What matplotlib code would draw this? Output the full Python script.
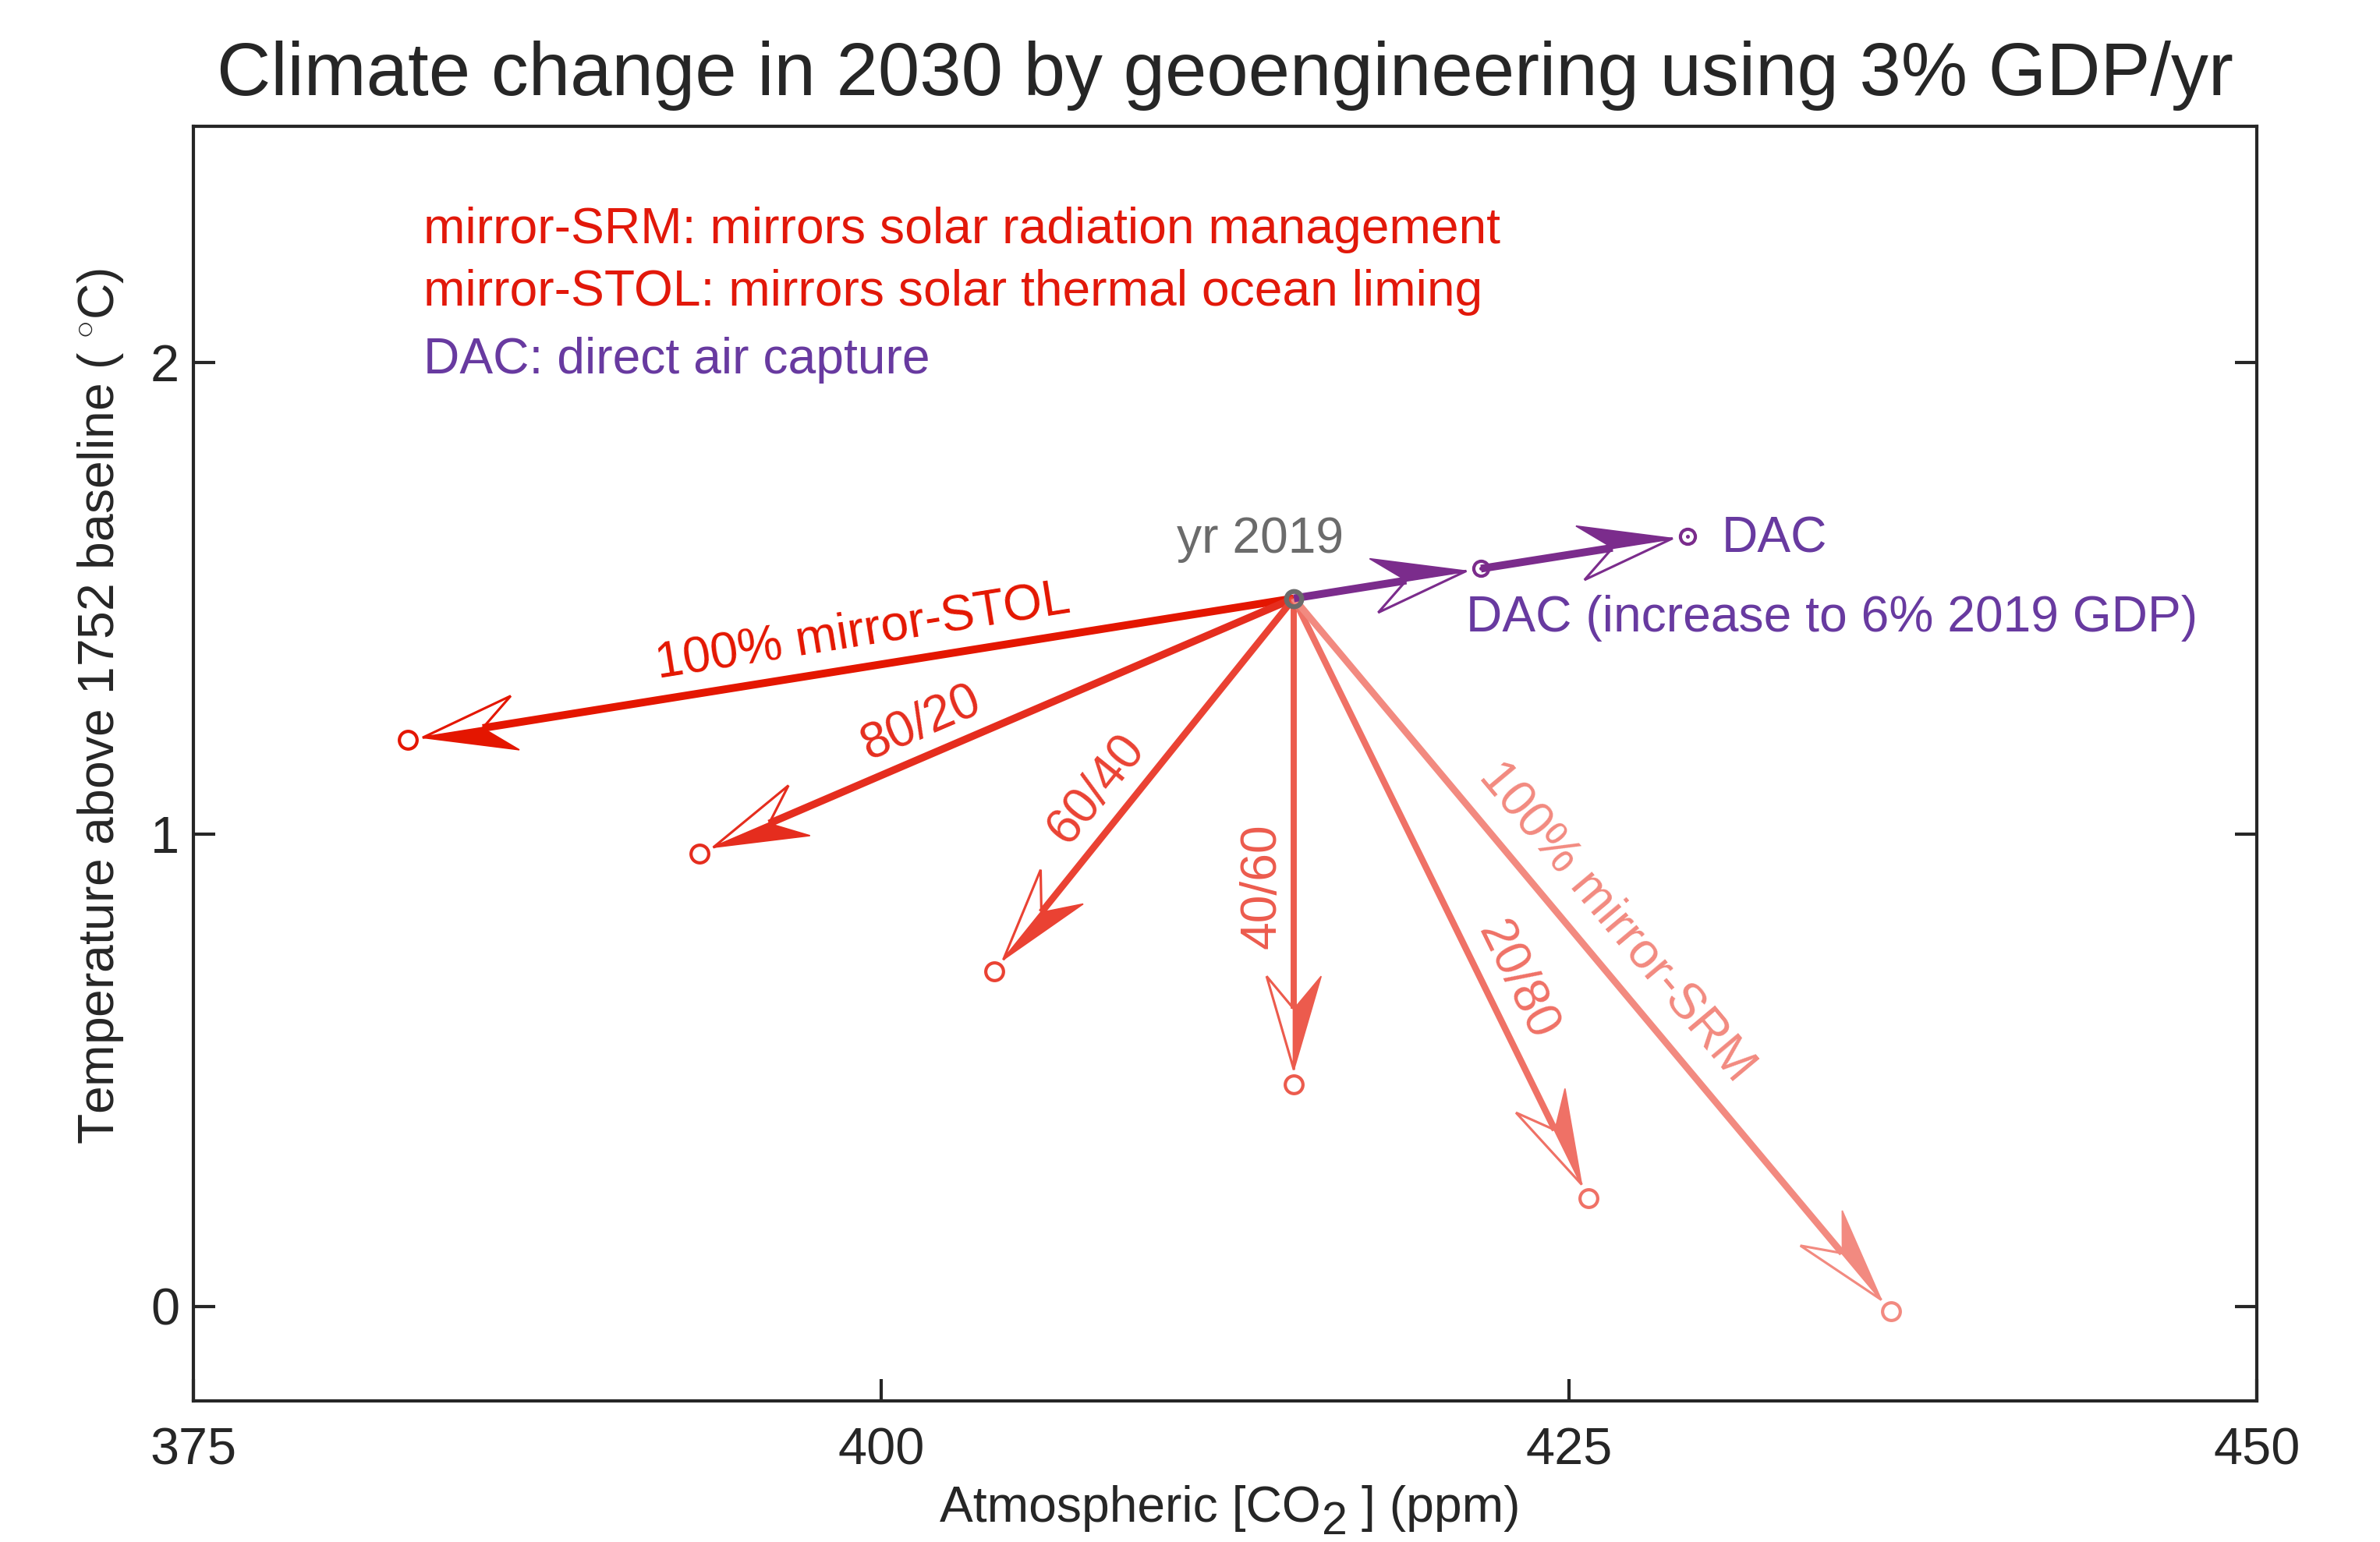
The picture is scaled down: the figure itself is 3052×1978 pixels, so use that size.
import numpy as np
import matplotlib.pyplot as plt
from matplotlib.patches import Polygon

plt.rcParams['font.family'] = ['Liberation Sans', 'DejaVu Sans']
plt.rcParams['mathtext.fontset'] = 'custom'
plt.rcParams['mathtext.rm'] = 'Liberation Sans'
plt.rcParams['mathtext.it'] = 'Liberation Sans:italic'

# ---- data ----
start_co2 = 415.0
start_temp = 1.5

mix_labels = ['100% mirror-STOL', '80/20', '60/40', '40/60', '20/80', '100% mirror-SRM']
mix_co2 = [382.8, 393.4, 404.1, 415.0, 425.7, 436.7]
mix_temp = [1.20, 0.96, 0.71, 0.47, 0.23, -0.01]

dac_co2 = [421.8, 429.3]
dac_temp = [1.563, 1.632]

xticks = [375, 400, 425, 450]
yticks = [0, 1, 2]

# ---- styles ----
mix_colors = ['#e41600', '#e52d1e', '#ea4233', '#ec5b4d', '#ef7166', '#f28a80']
mix_lw = [2.4, 2.3, 2.1, 1.9, 2.0, 2.1]
label_t = [0.48, 0.606, 0.569, 0.592, 0.661, 0.49]      # position along arrow
label_off = [6.8, 5.8, 6.6, 5.8, 5.8, 8.2]              # baseline offset (pt)
dac_color = '#7b2c8c'
dac_text = '#683aa0'
red_text = '#e2180a'
grey = '#6b6b6b'
ink = '#262626'

DPI = 300
PX = DPI / 72.0
GAP = 19          # px between arrow tip and end marker
HEAD_L = 120
HEAD_W = 35
NOTCH = 78

fig = plt.figure(figsize=(3053 / DPI, 1978 / DPI), dpi=DPI)
ax = fig.add_axes([248 / 3053, 1 - 1797 / 1978, 2646 / 3053, 1635 / 1978])
ax.set_xlim(375, 450)
ax.set_ylim(-0.2, 2.5)
ax.set_xticks(xticks)
ax.set_yticks(yticks)
ax.tick_params(direction='in', length=6.7, width=1.0, colors=ink, labelsize=16)
ax.tick_params(axis='y', right=True, pad=4.3)
ax.tick_params(axis='x', top=False, pad=8)
for s in ax.spines.values():
    s.set_linewidth(1.0)
    s.set_color(ink)

to_disp = ax.transData.transform
to_data = ax.transData.inverted().transform


def draw_arrow(x0, y0, x1, y1, color, lw):
    p0 = to_disp((x0, y0))
    p1 = to_disp((x1, y1))
    d = (p1 - p0) / np.hypot(*(p1 - p0))
    nl = np.array([-d[1], d[0]])
    tip = p1 - GAP * d
    notch = tip - NOTCH * d
    back_l = tip - HEAD_L * d + HEAD_W * nl
    back_r = tip - HEAD_L * d - HEAD_W * nl
    shaft = to_data(np.array([p0, notch]))
    ax.plot(shaft[:, 0], shaft[:, 1], color=color, lw=lw, solid_capstyle='butt', zorder=2)
    ax.add_patch(Polygon(to_data(np.array([tip, back_l, notch])), closed=True,
                         fc=color, ec=color, lw=0.4, zorder=2))
    ax.add_patch(Polygon(to_data(np.array([tip, back_r, notch])), closed=True,
                         fc='none', ec=color, lw=0.75, joinstyle='miter', zorder=2))


def arrow_label(x0, y0, x1, y1, text, t, off, color):
    p0 = to_disp((x0, y0))
    p1 = to_disp((x1, y1))
    v = p1 - p0
    ang = np.degrees(np.arctan2(v[1], v[0]))
    if ang > 90:
        ang -= 180
    elif ang <= -90:
        ang += 180
    th = np.radians(ang)
    up = np.array([-np.sin(th), np.cos(th)])
    x, y = to_data(p0 + t * v + off * PX * up)
    ax.text(x, y, text, color=color, fontsize=15.4, rotation=ang,
            rotation_mode='anchor', ha='center', va='baseline')


for i in range(len(mix_co2)):
    draw_arrow(start_co2, start_temp, mix_co2[i], mix_temp[i], mix_colors[i], mix_lw[i])
    arrow_label(start_co2, start_temp, mix_co2[i], mix_temp[i], mix_labels[i],
                label_t[i], label_off[i], mix_colors[i])
    ax.plot(mix_co2[i], mix_temp[i], 'o', ms=5.45, mfc='none', mec=mix_colors[i],
            mew=1.0, zorder=3)

draw_arrow(start_co2, start_temp, dac_co2[0], dac_temp[0], dac_color, 2.4)
draw_arrow(dac_co2[0], dac_temp[0], dac_co2[1], dac_temp[1], dac_color, 2.4)
ax.plot(dac_co2, dac_temp, 'o', ms=4.6, mfc='none', mec=dac_color, mew=1.0, zorder=3)
ax.plot(dac_co2, dac_temp, 'o', ms=1.2, mfc=dac_color, mec=dac_color, mew=0, zorder=3)

ax.plot(start_co2, start_temp, 'o', ms=4.7, mfc='none', mec=grey, mew=1.5, zorder=4)

ax.annotate('yr 2019', xy=(start_co2, start_temp), xytext=(-10.4, 14.1),
            textcoords='offset points', ha='center', va='baseline', color=grey, fontsize=15.4)
ax.annotate('DAC', xy=(dac_co2[1], dac_temp[1]), xytext=(10.5, -4.9),
            textcoords='offset points', ha='left', va='baseline', color=dac_text, fontsize=15.4)
ax.annotate('DAC (increase to 6% 2019 GDP)', xy=(dac_co2[0], dac_temp[0]), xytext=(-4.7, -19.4),
            textcoords='offset points', ha='left', va='baseline', color=dac_text, fontsize=15.4)

# key text
ax.text(0.1115, 0.9084, 'mirror-SRM: mirrors solar radiation management', transform=ax.transAxes,
        color=red_text, fontsize=15.4, va='baseline')
ax.text(0.1115, 0.8595, 'mirror-STOL: mirrors solar thermal ocean liming', transform=ax.transAxes,
        color=red_text, fontsize=15.4, va='baseline')
ax.text(0.1115, 0.8059, 'DAC: direct air capture', transform=ax.transAxes,
        color=dac_text, fontsize=15.4, va='baseline')

ax.set_title('Climate change in 2030 by geoengineering using 3% GDP/yr', fontsize=23,
             color=ink, pad=9.6)

ax.set_ylabel(r'Temperature above 1752 baseline ( $^{\circ}$C)', fontsize=15.4, color=ink)
ax.yaxis.set_label_coords(-0.0329, 0.545)

# x label with a large, low subscript
xl1 = fig.text(1205 / 3053, 1 - 1952 / 1978, 'Atmospheric [CO', ha='left', va='baseline',
               fontsize=15.4, color=ink)
xl2 = ax.annotate('2', xy=(1, 0), xycoords=xl1, xytext=(0.4, -3.6), textcoords='offset points',
                  ha='left', va='bottom', fontsize=14.2, color=ink, annotation_clip=False)
ax.annotate(' ] (ppm)', xy=(1, 0), xycoords=(xl2, xl1), xytext=(0, 0), textcoords='offset points',
            ha='left', va='bottom', fontsize=15.4, color=ink, annotation_clip=False)

fig.savefig('out.png', dpi=DPI)
